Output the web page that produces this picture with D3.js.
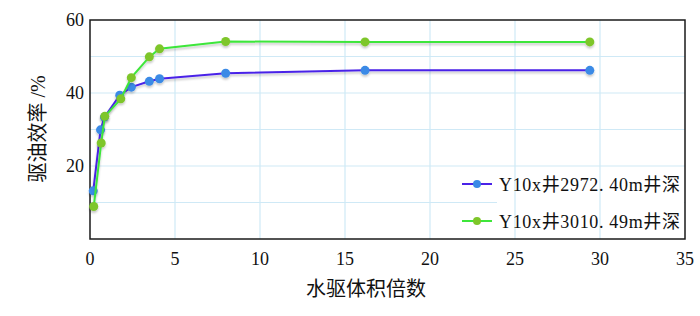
<!DOCTYPE html>
<html>
<head>
<meta charset="utf-8">
<script src="https://cdn.jsdelivr.net/npm/d3@7"></script>
<style>
  body { margin: 0; background: #fff; }
  text { font-family: "Liberation Serif", "Noto Sans CJK SC", serif; fill: #111; }
</style>
</head>
<body>
<svg id="chart"></svg>
<script>
const width = 700;
const height = 316;
const margin = {top: 20, right: 15, bottom: 77, left: 90};

const seriesNames = ['Y10x井2972. 40m井深', 'Y10x井3010. 49m井深'];
const blueX = [0.19, 0.62, 0.85, 1.75, 2.43, 3.49, 4.09, 7.98, 16.18, 29.4];
const blueY = [13.2, 29.9, 33.4, 39.4, 41.6, 43.2, 43.9, 45.4, 46.2, 46.2];
const greenX = [0.22, 0.66, 0.87, 1.81, 2.43, 3.49, 4.09, 7.98, 16.18, 29.4];
const greenY = [8.9, 26.3, 33.6, 38.4, 44.2, 49.9, 52.1, 54.1, 54.0, 54.0];
const xTicks = [0, 5, 10, 15, 20, 25, 30, 35];
const yTicks = [20, 40, 60];
const yGrid = [10, 20, 30, 40, 50];

const series = [
  {name: seriesNames[0], line: '#4a22e8', dot: '#3a8ae6', pts: blueX.map((v, i) => [v, blueY[i]])},
  {name: seriesNames[1], line: '#3ee63a', dot: '#7ec62a', pts: greenX.map((v, i) => [v, greenY[i]])}
];

const svg = d3.select('#chart').attr('width', width).attr('height', height);

const defs = svg.append('defs');
const f = defs.append('filter').attr('id', 'shadow')
  .attr('x', '-10%').attr('y', '-10%').attr('width', '120%').attr('height', '130%');
f.append('feDropShadow').attr('dx', 0).attr('dy', 2).attr('stdDeviation', 1.2)
  .attr('flood-color', '#000').attr('flood-opacity', 0.22);

const x = d3.scaleLinear().domain([0, 35]).range([margin.left, width - margin.right]);
const y = d3.scaleLinear().domain([0, 60]).range([height - margin.bottom, margin.top]);

// grid
svg.append('g').selectAll('line').data(yGrid).enter().append('line')
  .attr('x1', x(0)).attr('x2', x(35))
  .attr('y1', d => y(d)).attr('y2', d => y(d))
  .attr('stroke', '#cfe9f6').attr('stroke-width', 1.2);

// legend backing hides the grid line behind the labels
svg.append('rect').attr('x', 497).attr('y', 197).attr('width', 187).attr('height', 12).attr('fill', '#fff');

svg.append('g').selectAll('line').data(xTicks.slice(1, -1)).enter().append('line')
  .attr('x1', d => x(d)).attr('x2', d => x(d))
  .attr('y1', y(0)).attr('y2', y(60))
  .attr('stroke', '#cfe9f6').attr('stroke-width', 1.2);

// frame
svg.append('rect')
  .attr('x', x(0)).attr('y', y(60))
  .attr('width', x(35) - x(0)).attr('height', y(0) - y(60))
  .attr('fill', 'none').attr('stroke', '#1a1a1a').attr('stroke-width', 1.5);

// axes labels
svg.append('g').selectAll('text').data(xTicks).enter().append('text')
  .attr('x', d => x(d)).attr('y', y(0) + 26)
  .attr('text-anchor', 'middle').attr('font-size', 18)
  .text(d => d);

svg.append('g').selectAll('text').data(yTicks).enter().append('text')
  .attr('x', x(0) - 6).attr('y', d => y(d) + 6)
  .attr('text-anchor', 'end').attr('font-size', 18)
  .text(d => d);

svg.append('text')
  .attr('x', 366).attr('y', 296)
  .attr('text-anchor', 'middle').attr('font-size', 20)
  .text('水驱体积倍数');

svg.append('text')
  .attr('transform', 'translate(45,129) rotate(-90)')
  .attr('text-anchor', 'middle').attr('font-size', 20)
  .text('驱油效率 /%');

// lines
const line = d3.line().x(d => x(d[0])).y(d => y(d[1]));

series.forEach(s => {
  const g = svg.append('g').attr('filter', 'url(#shadow)');
  g.append('path').datum(s.pts)
    .attr('d', line).attr('fill', 'none')
    .attr('stroke', s.line).attr('stroke-width', 2);
  g.selectAll('circle').data(s.pts).enter().append('circle')
    .attr('cx', d => x(d[0])).attr('cy', d => y(d[1]))
    .attr('r', 4.5).attr('fill', s.dot);
});

// legend
const legend = svg.append('g');
series.forEach((s, i) => {
  const ly = 184 + i * 37;
  legend.append('line')
    .attr('x1', 462).attr('x2', 492).attr('y1', ly).attr('y2', ly)
    .attr('stroke', s.line).attr('stroke-width', 2);
  legend.append('circle').attr('cx', 477).attr('cy', ly).attr('r', 4).attr('fill', s.dot);
  legend.append('text')
    .attr('x', 499).attr('y', ly + 7)
    .attr('font-size', 18)
    .attr('textLength', 181).attr('lengthAdjust', 'spacing')
    .text(s.name);
});
</script>
</body>
</html>
